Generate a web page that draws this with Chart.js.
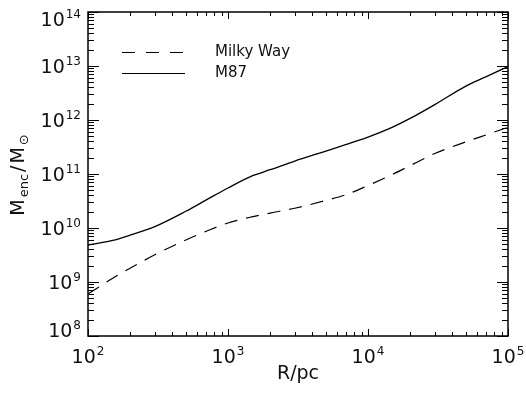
<!DOCTYPE html>
<html>
<head>
<meta charset="utf-8">
<script src="https://cdn.jsdelivr.net/npm/chart.js@4/dist/chart.umd.min.js"></script>
<style>
  html, body { margin: 0; padding: 0; background: #fff; }
  canvas { display: block; }
</style>
</head>
<body>
<canvas id="massChart" width="526" height="395"></canvas>
<script>
// radius grid (pc) and enclosed mass (solar masses)
const radius = [100, 150, 200, 300, 500, 700, 1000, 1500, 2000, 3000, 5000, 7000,
                10000, 15000, 20000, 30000, 50000, 70000, 100000];
const milkyWay = [6.0e8, 1.17e9, 1.8e9, 3.19e9, 6.0e9, 8.7e9, 1.24e10, 1.62e10, 1.89e10, 2.32e10,
                  3.24e10, 4.15e10, 6.12e10, 9.86e10, 1.43e11, 2.4e11, 3.93e11, 5.32e11, 7.33e11];
const m87 = [4.84e9, 5.9e9, 7.4e9, 1.06e10, 2.04e10, 3.31e10, 5.5e10, 9.3e10, 1.2e11, 1.74e11,
             2.66e11, 3.53e11, 4.84e11, 7.4e11, 1.07e12, 1.93e12, 4.25e12, 6.35e12, 9.8e12];

const seriesNames = ['Milky Way', 'M87'];
const xDecades = [2, 3, 4, 5];
const yDecades = [8, 9, 10, 11, 12, 13, 14];

const FONT = '"DejaVu Sans", sans-serif';
const INK = '#111';

// draws "10" with a superscript exponent, centred on (cx, cy) or right-aligned at cx
function drawPower(ctx, exp, cx, cy, align) {
    ctx.font = '19px ' + FONT;
    const wBase = ctx.measureText('10').width;
    ctx.font = '12px ' + FONT;
    const wExp = ctx.measureText(String(exp)).width + 1;
    const total = wBase + wExp;
    const left = align === 'right' ? cx - total : cx - total / 2;
    ctx.textAlign = 'left';
    ctx.textBaseline = 'alphabetic';
    ctx.font = '19px ' + FONT;
    ctx.fillText('10', left, cy + 7);
    ctx.font = '12px ' + FONT;
    ctx.fillText(String(exp), left + wBase + 1, cy - 1);
}

const framePlugin = {
    id: 'idlFrame',
    afterDraw(chart) {
        const { ctx, chartArea: a, scales } = chart;
        const xs = scales.x, ys = scales.y;
        ctx.save();
        ctx.strokeStyle = '#000';
        ctx.fillStyle = INK;

        // box
        ctx.lineWidth = 1.5;
        ctx.strokeRect(a.left, a.top, a.right - a.left, a.bottom - a.top);

        // inward ticks on all four sides
        ctx.lineWidth = 1;
        ctx.beginPath();
        xDecades.forEach(n => {
            for (let d = 1; d <= 9; d++) {
                const v = d * Math.pow(10, n);
                if (v > xs.max) break;
                const px = Math.round(xs.getPixelForValue(v)) + 0.5;
                const len = d === 1 ? 7 : 4;
                ctx.moveTo(px, a.bottom); ctx.lineTo(px, a.bottom - len);
                ctx.moveTo(px, a.top); ctx.lineTo(px, a.top + len);
            }
        });
        yDecades.forEach(n => {
            for (let d = 1; d <= 9; d++) {
                const v = d * Math.pow(10, n);
                if (v > ys.max) break;
                const py = Math.round(ys.getPixelForValue(v)) + 0.5;
                const len = d === 1 ? 11 : 6;
                ctx.moveTo(a.left, py); ctx.lineTo(a.left + len, py);
                ctx.moveTo(a.right, py); ctx.lineTo(a.right - len, py);
            }
        });
        ctx.stroke();

        // tick labels
        xDecades.forEach(n => {
            drawPower(ctx, n, xs.getPixelForValue(Math.pow(10, n)), a.bottom + 20, 'center');
        });
        yDecades.forEach(n => {
            let cy = ys.getPixelForValue(Math.pow(10, n));
            cy = Math.min(Math.max(cy, a.top + 7), a.bottom - 6);
            drawPower(ctx, n, a.left - 7, cy, 'right');
        });

        // x title
        ctx.font = '19px ' + FONT;
        ctx.textAlign = 'center';
        ctx.textBaseline = 'alphabetic';
        ctx.fillText('R/pc', (a.left + a.right) / 2, a.bottom + 43);

        // y title with subscripts, rotated
        ctx.save();
        ctx.translate(24, (a.top + a.bottom) / 2);
        ctx.rotate(-Math.PI / 2);
        const parts = [
            { t: 'M', f: '19px', dy: 0 },
            { t: 'enc', f: '13px', dy: 4 },
            { t: '/', f: '19px', dy: 0 },
            { t: 'M', f: '19px', dy: 0 },
            { t: '\u2299', f: '13px', dy: 4 }
        ];
        let width = 0;
        parts.forEach(p => { ctx.font = p.f + ' ' + FONT; p.w = ctx.measureText(p.t).width + 2; width += p.w; });
        let x = -width / 2;
        ctx.textAlign = 'left';
        parts.forEach(p => {
            ctx.font = p.f + ' ' + FONT;
            ctx.fillText(p.t, x, p.dy);
            x += p.w;
        });
        ctx.restore();

        // legend
        ctx.font = '15px ' + FONT;
        ctx.textAlign = 'left';
        ctx.textBaseline = 'middle';
        const legendRows = [
            { name: seriesNames[0], dash: [13, 11], y: 52 },
            { name: seriesNames[1], dash: [], y: 73 }
        ];
        legendRows.forEach(r => {
            ctx.setLineDash(r.dash);
            ctx.lineWidth = 1.2;
            ctx.beginPath();
            ctx.moveTo(122, r.y + 0.5);
            ctx.lineTo(185, r.y + 0.5);
            ctx.stroke();
            ctx.setLineDash([]);
            ctx.fillText(r.name, 215, r.y);
        });

        ctx.restore();
    }
};

new Chart(document.getElementById('massChart'), {
    type: 'line',
    data: {
        datasets: [
            {
                label: seriesNames[0],
                data: radius.map((r, i) => ({ x: r, y: milkyWay[i] })),
                borderColor: '#000',
                borderWidth: 1.2,
                borderDash: [13, 9],
                pointRadius: 0,
                cubicInterpolationMode: 'monotone',
                fill: false,
            },
            {
                label: seriesNames[1],
                data: radius.map((r, i) => ({ x: r, y: m87[i] })),
                borderColor: '#000',
                borderWidth: 1.3,
                pointRadius: 0,
                cubicInterpolationMode: 'monotone',
                fill: false,
            },
        ],
    },
    options: {
        responsive: false,
        animation: false,
        devicePixelRatio: 1,
        layout: { padding: { left: 0, top: 12, right: 18, bottom: 0 } },
        plugins: {
            legend: { display: false },
            tooltip: { enabled: false },
        },
        scales: {
            x: {
                type: 'logarithmic',
                min: 100,
                max: 100000,
                ticks: { display: false },
                grid: { display: false },
                border: { display: false },
                afterFit: s => { s.height = 59; },
            },
            y: {
                type: 'logarithmic',
                min: 1e8,
                max: 1e14,
                ticks: { display: false },
                grid: { display: false },
                border: { display: false },
                afterFit: s => { s.width = 88; },
            },
        },
    },
    plugins: [framePlugin],
});
</script>
</body>
</html>
